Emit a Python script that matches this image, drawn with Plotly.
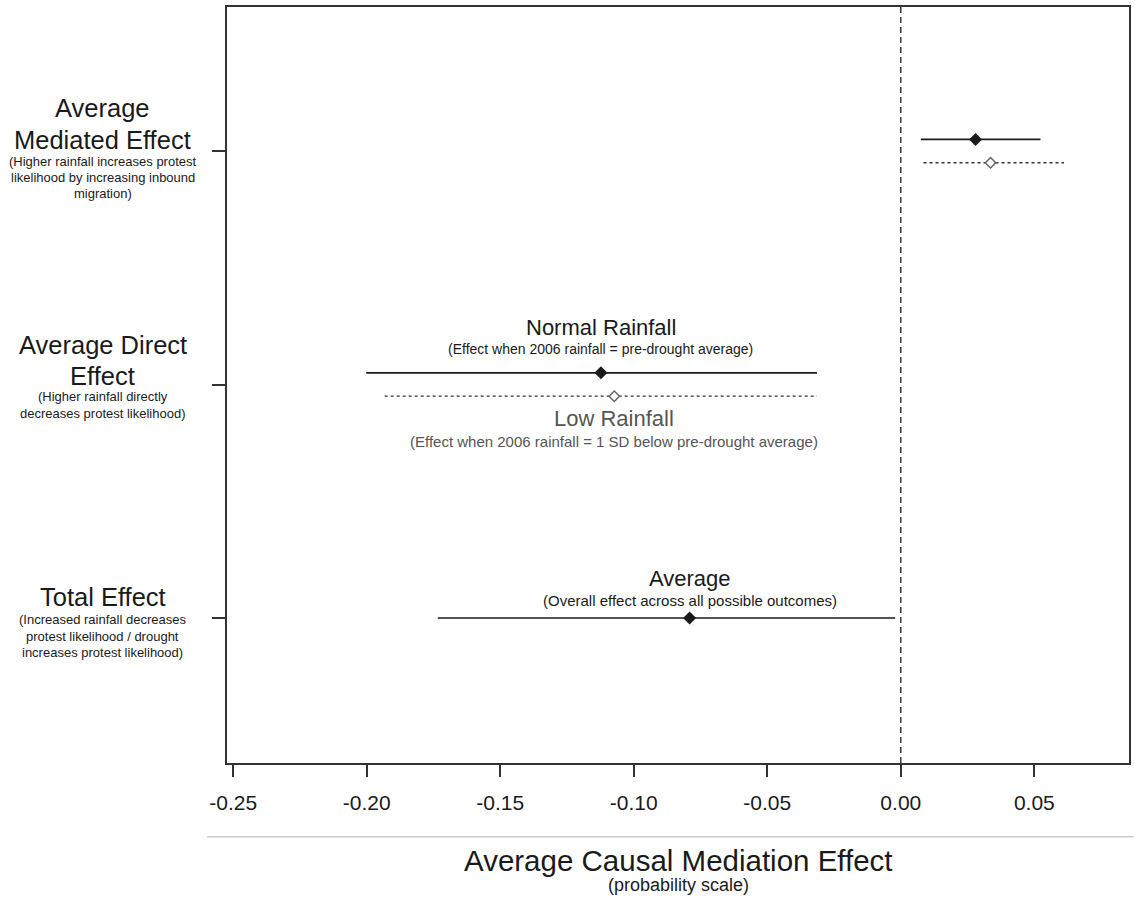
import plotly.graph_objects as go

# Effect rows (y position of each row on the category axis)
effects = ["Total Effect", "Average Direct Effect", "Average Mediated Effect"]
effect_y = [1, 2, 3]

# Normal rainfall (solid) estimates and 95% intervals, per effect row
normal_est = [-0.0791, -0.1123, 0.0280]
normal_lo = [-0.1734, -0.2002, 0.0075]
normal_hi = [-0.0021, -0.0314, 0.0523]

# Low rainfall (dotted) estimates, only for direct and mediated rows
low_rows = [2, 3]
low_est = [-0.1073, 0.0336]
low_lo = [-0.1933, 0.0085]
low_hi = [-0.0314, 0.0611]

x_ticks = [-0.25, -0.20, -0.15, -0.10, -0.05, 0.00, 0.05]
x_tick_text = ["-0.25", "-0.20", "-0.15", "-0.10", "-0.05", "0.00", "0.05"]

FONT = "Liberation Sans, Arial, sans-serif"
INK = "#1a1a1a"
GREY = "#555555"
ROW_SHIFT = 0.05  # vertical separation of the two scenarios within a row

fig = go.Figure()

# Solid row: single row for total effect sits on the row line itself
for ry, est, lo, hi in zip(effect_y, normal_est, normal_lo, normal_hi):
    yy = ry if ry == 1 else ry + ROW_SHIFT
    fig.add_trace(go.Scatter(x=[lo, hi], y=[yy, yy], mode="lines",
                             line=dict(color=INK, width=1.6),
                             showlegend=False, hoverinfo="skip"))
    fig.add_trace(go.Scatter(x=[est], y=[yy], mode="markers",
                             marker=dict(symbol="diamond", size=10, color=INK),
                             showlegend=False))

for ry, est, lo, hi in zip(low_rows, low_est, low_lo, low_hi):
    yy = ry - ROW_SHIFT
    fig.add_trace(go.Scatter(x=[lo, hi], y=[yy, yy], mode="lines",
                             line=dict(color="#333333", width=1.3, dash="dot"),
                             showlegend=False, hoverinfo="skip"))
    fig.add_trace(go.Scatter(x=[est], y=[yy], mode="markers",
                             marker=dict(symbol="diamond", size=8, color="white",
                                         line=dict(color="#666666", width=1.5)),
                             showlegend=False))

# Vertical reference line at zero
fig.add_shape(type="line", xref="x", yref="paper", x0=0, x1=0, y0=0, y1=1,
              line=dict(color=INK, width=1.3, dash="6px,4px"), layer="below")

# Light separator above the axis title
fig.add_shape(type="line", xref="paper", yref="paper", x0=-0.022, x1=1.005,
              y0=-0.0975, y1=-0.0975, line=dict(color="#cccccc", width=1.5))

annotations = []


def add_lines(x, y, lines, xref="x", yref="y", color=INK):
    """lines: list of (text, size, pixel shift from the anchor)."""
    for text, size, shift in lines:
        annotations.append(dict(x=x, y=y, xref=xref, yref=yref, text=text,
                                showarrow=False, xanchor="center",
                                yanchor="middle", yshift=shift,
                                font=dict(family=FONT, size=size, color=color)))


LEFT_X = -0.1377
add_lines(LEFT_X, 3, [("Average", 25.5, 43), ("Mediated Effect", 25.5, 11),
                      ("(Higher rainfall increases protest", 13, -10),
                      ("likelihood by increasing inbound", 13, -26),
                      ("migration)", 13, -42)], xref="paper")
add_lines(LEFT_X, 2, [("Average Direct", 25.5, 40), ("Effect", 25.5, 9),
                      ("(Higher rainfall directly", 13, -12),
                      ("decreases protest likelihood)", 13, -29)], xref="paper")
add_lines(LEFT_X, 1, [("Total Effect", 25.5, 21),
                      ("(Increased rainfall decreases", 13, -1),
                      ("protest likelihood / drought", 13, -18),
                      ("increases protest likelihood)", 13, -34)], xref="paper")

# Scenario labels centred on their point estimates
add_lines(normal_est[1], 2, [("Normal Rainfall", 22, 57),
                             ("(Effect when 2006 rainfall = pre-drought average)", 14, 36)])
add_lines(low_est[0], 2, [("Low Rainfall", 22, -34),
                          ("(Effect when 2006 rainfall = 1 SD below pre-drought average)", 15, -57)],
          color=GREY)
add_lines(normal_est[0], 1, [("Average", 22, 40),
                             ("(Overall effect across all possible outcomes)", 15, 18)])

# Axis title
annotations.append(dict(x=0.5, y=-0.129, xref="paper", yref="paper",
                        text="Average Causal Mediation Effect", showarrow=False,
                        xanchor="center", yanchor="middle",
                        font=dict(family=FONT, size=29.5, color=INK)))
annotations.append(dict(x=0.5, y=-0.161, xref="paper", yref="paper",
                        text="(probability scale)", showarrow=False,
                        xanchor="center", yanchor="middle",
                        font=dict(family=FONT, size=18, color=INK)))

fig.update_layout(
    width=1135, height=903,
    margin=dict(l=227, r=4, t=7, b=140),
    paper_bgcolor="white", plot_bgcolor="white",
    annotations=annotations,
    font=dict(family=FONT, color=INK),
    xaxis=dict(range=[-0.25235, 0.08546], tickvals=x_ticks, ticktext=x_tick_text,
               ticks="outside", ticklen=12, tickwidth=1.5, tickcolor="#333333",
               tickfont=dict(family=FONT, size=21, color=INK),
               ticklabelstandoff=8,
               showgrid=False, zeroline=False, showline=True, mirror=True,
               linecolor="#333333", linewidth=1.6),
    yaxis=dict(range=[0.379, 3.617], tickvals=effect_y, ticktext=["", "", ""],
               ticks="outside", ticklen=13, tickwidth=1.5, tickcolor="#333333",
               showticklabels=False, showgrid=False, zeroline=False,
               showline=True, mirror=True, linecolor="#333333", linewidth=1.6),
)

fig.write_html("out.html")
